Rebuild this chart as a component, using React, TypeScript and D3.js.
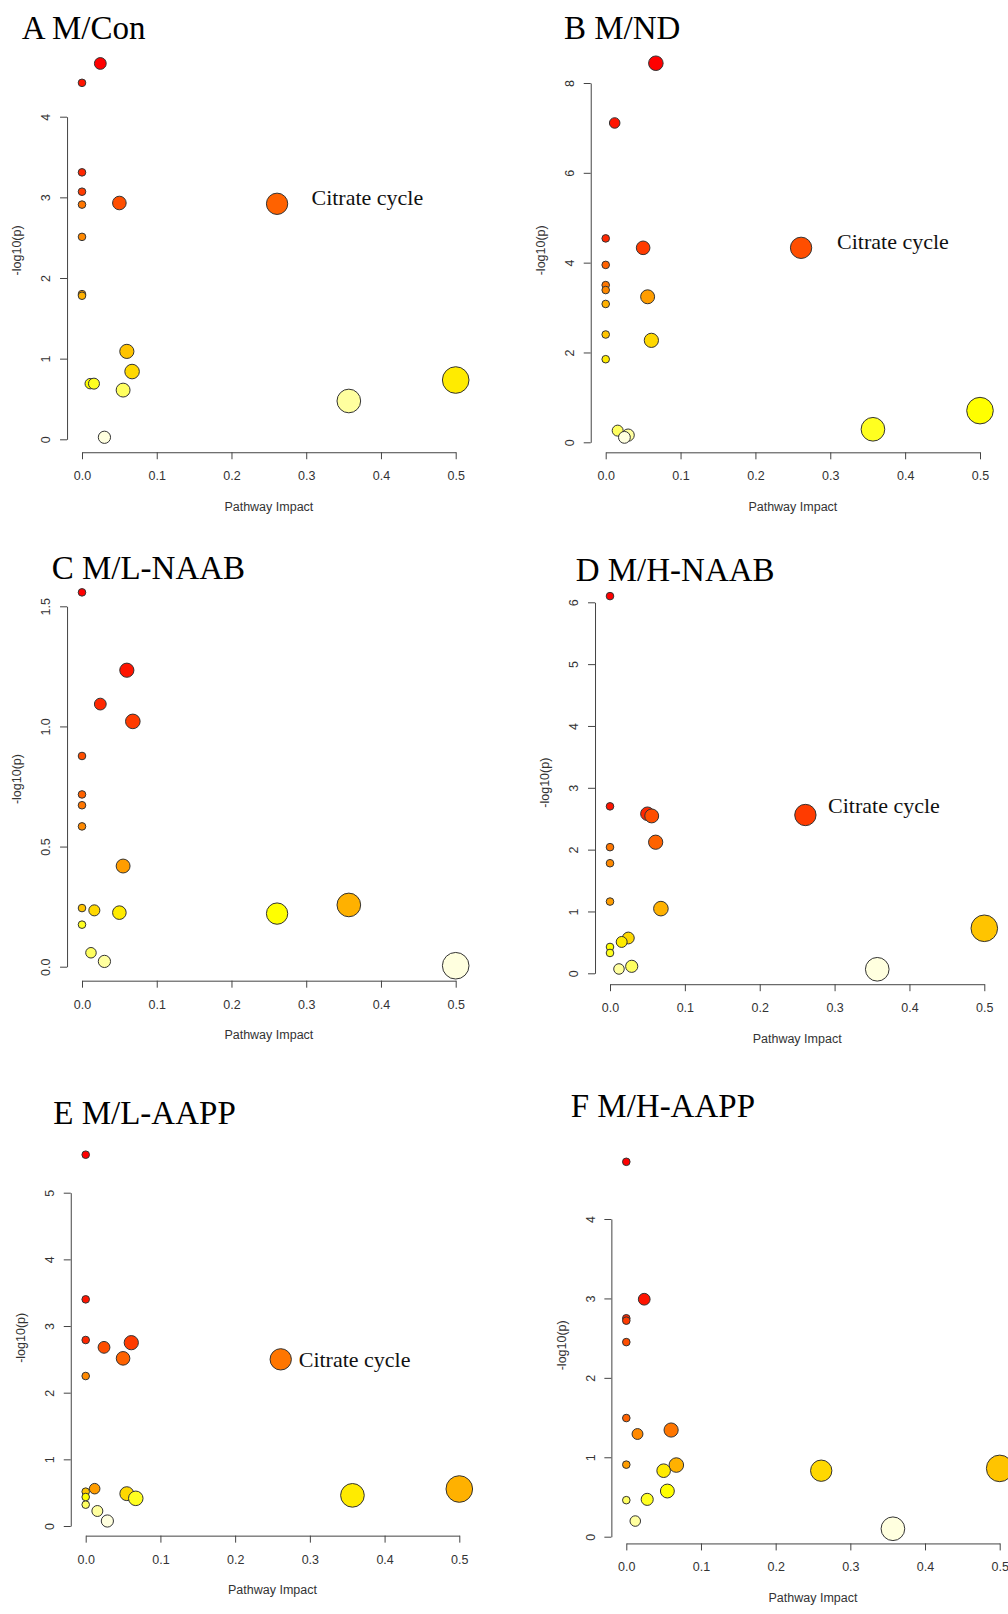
import React, { useEffect, useRef } from "react";
import * as d3 from "d3";

const width = 1008;
const height = 1614;

// pathway impact (x) and -log10(p) (y), one pair of arrays per panel
const impactA = [0.0245, 0, 0, 0, 0, 0.05, 0.261, 0, 0, 0, 0.06, 0.067, 0.5, 0.011, 0.016, 0.055, 0.357, 0.03];
const logpA = [4.66, 4.42, 3.31, 3.07, 2.91, 2.93, 2.92, 2.51, 1.8, 1.78, 1.09, 0.84, 0.735, 0.69, 0.69, 0.61, 0.475, 0.025];

const impactB = [0.067, 0.012, 0, 0.05, 0.261, 0, 0, 0, 0.056, 0, 0, 0.061, 0, 0.5, 0.357, 0.016, 0.03, 0.025];
const logpB = [8.44, 7.11, 4.54, 4.33, 4.33, 3.95, 3.5, 3.39, 3.24, 3.08, 2.4, 2.27, 1.85, 0.705, 0.29, 0.26, 0.16, 0.11];

const impactC = [0, 0.06, 0.0245, 0.068, 0, 0, 0, 0, 0.055, 0.357, 0, 0.0165, 0.05, 0.261, 0, 0.012, 0.03, 0.5];
const logpC = [1.558, 1.234, 1.093, 1.021, 0.877, 0.717, 0.672, 0.584, 0.419, 0.257, 0.244, 0.2345, 0.225, 0.221, 0.175, 0.058, 0.022, 0.004];

const impactD = [0, 0, 0.05, 0.0557, 0.261, 0.061, 0, 0, 0, 0.068, 0.5, 0.0245, 0.0156, 0, 0, 0.029, 0.012, 0.357];
const logpD = [6.1, 2.7, 2.58, 2.545, 2.56, 2.12, 2.04, 1.78, 1.16, 1.046, 0.728, 0.571, 0.507, 0.426, 0.329, 0.113, 0.07, 0.065];

const impactE = [0, 0, 0, 0.061, 0.0245, 0.05, 0.261, 0, 0.5, 0.012, 0, 0.055, 0.357, 0, 0.067, 0, 0.0156, 0.029];
const logpE = [5.57, 3.4, 2.79, 2.75, 2.68, 2.515, 2.5, 2.25, 0.555, 0.56, 0.515, 0.485, 0.46, 0.435, 0.415, 0.32, 0.225, 0.075];

const impactF = [0, 0.024, 0, 0, 0, 0, 0.06, 0.015, 0, 0.067, 0.5, 0.261, 0.05, 0.055, 0.028, 0, 0.012, 0.357];
const logpF = [4.72, 2.99, 2.75, 2.72, 2.45, 1.494, 1.343, 1.293, 0.907, 0.902, 0.86, 0.831, 0.831, 0.575, 0.47, 0.46, 0.197, 0.1];

const titles = ["A M/Con", "B M/ND", "C M/L-NAAB", "D M/H-NAAB", "E M/L-AAPP", "F M/H-AAPP"];
const xTicks = [0, 0.1, 0.2, 0.3, 0.4, 0.5];
const yTicksA = [0, 1, 2, 3, 4];
const yTicksB = [0, 2, 4, 6, 8];
const yTicksC = [0, 0.5, 1, 1.5];
const yTicksD = [0, 1, 2, 3, 4, 5, 6];
const yTicksE = [0, 1, 2, 3, 4, 5];
const yTicksF = [0, 1, 2, 3, 4];
const highlightName = "Citrate cycle";
const highlightImpact = 0.261;
const highlighted = [true, true, false, true, true, false];

// pixel layout of each panel: where x=0 / x=0.5 and y=0 / top tick sit, title and label offsets
const layouts = [
  { x0: 82, x5: 455.7, y0: 439.3, yTop: 116.7, title: [21.7, 39.3], label: [34.4, 1.3] },
  { x0: 605.7, x5: 980, y0: 442.3, yTop: 83, title: [564, 39.3], label: [36, 1.6] },
  { x0: 82, x5: 455.7, y0: 966.7, yTop: 606.3, title: [51.7, 579], label: [0, 0] },
  { x0: 610, x5: 984.3, y0: 973.3, yTop: 602.3, title: [575.7, 580.7], label: [22.7, -2.3] },
  { x0: 85.7, x5: 459.3, y0: 1526, yTop: 1192.7, title: [53.3, 1124.3], label: [18, 7.4] },
  { x0: 626.3, x5: 999.7, y0: 1536.7, yTop: 1219, title: [570.7, 1116.7], label: [0, 0] },
];

const panels = [
  { impact: impactA, logp: logpA, yTicks: yTicksA },
  { impact: impactB, logp: logpB, yTicks: yTicksB },
  { impact: impactC, logp: logpC, yTicks: yTicksC },
  { impact: impactD, logp: logpD, yTicks: yTicksD },
  { impact: impactE, logp: logpE, yTicks: yTicksE },
  { impact: impactF, logp: logpF, yTicks: yTicksF },
];

// R's heat.colors(n)
const heatColors = (n: number) => {
  const j = Math.floor(n / 4);
  const i = n - j;
  const out: string[] = [];
  for (let k = 0; k < i; k++) {
    const h = i > 1 ? k / (i - 1) : 0;
    out.push(d3.rgb(255, Math.round(h * 255), 0).formatHex());
  }
  for (let k = 0; k < j; k++) {
    const from = 1 - 1 / (2 * j);
    const to = 1 / (2 * j);
    const s = j > 1 ? from + (k * (to - from)) / (j - 1) : from;
    out.push(d3.rgb(255, 255, Math.round((1 - s) * 255)).formatHex());
  }
  return out;
};

const sans = "'Liberation Sans', Arial, sans-serif";
const serif = "'Liberation Serif', 'Times New Roman', serif";
const axisColor = "#444";

const App = () => {
  const ref = useRef<SVGSVGElement>(null);

  useEffect(() => {
    const svg = d3.select(ref.current);
    svg.selectAll("*").remove();
    svg.append("rect").attr("width", width).attr("height", height).attr("fill", "white");

    const r = d3.scaleSqrt().domain([0, 0.5]).range([3.8, 13.3]);

    panels.forEach((p, pi) => {
      const L = layouts[pi];
      const yTopVal = p.yTicks[p.yTicks.length - 1];
      const x = d3.scaleLinear().domain([0, 0.5]).range([L.x0, L.x5]);
      const y = d3.scaleLinear().domain([0, yTopVal]).range([L.y0, L.yTop]);

      // R-style plot region: data range extended by 4%
      const [yMin, yMax] = d3.extent(p.logp) as [number, number];
      const yLow = yMin - 0.04 * (yMax - yMin);
      const xLow = -0.04 * 0.5;
      const axisY = y(yLow);
      const axisX = x(xLow);

      const g = svg.append("g");

      const xAxis = d3.axisBottom(x).tickValues(xTicks).tickFormat(d3.format(".1f"))
        .tickSize(7).tickSizeOuter(0).tickPadding(12);
      const gx = g.append("g").attr("transform", `translate(0,${axisY})`).call(xAxis);

      const fmt = p.yTicks.some((t) => !Number.isInteger(t)) ? d3.format(".1f") : d3.format("d");
      const yAxis = d3.axisLeft(y).tickValues(p.yTicks).tickFormat(fmt as any)
        .tickSize(7).tickSizeOuter(0);
      const gy = g.append("g").attr("transform", `translate(${axisX},0)`).call(yAxis);
      gy.selectAll("text")
        .attr("x", 0)
        .attr("dy", "0.35em")
        .attr("text-anchor", "middle")
        .attr("transform", "translate(-21,0) rotate(-90)");

      [gx, gy].forEach((a) => {
        a.select(".domain").attr("stroke", axisColor);
        a.selectAll(".tick line").attr("stroke", axisColor);
        a.selectAll("text").attr("fill", "#333").attr("font-size", 12.5).attr("font-family", sans);
      });

      g.append("text")
        .attr("x", (L.x0 + L.x5) / 2)
        .attr("y", axisY + 54.3)
        .attr("dy", "0.35em")
        .attr("text-anchor", "middle")
        .attr("font-family", sans)
        .attr("font-size", 12.5)
        .attr("fill", "#333")
        .text("Pathway Impact");

      g.append("text")
        .attr("transform", `translate(${axisX - 50},${y((yMin + yMax) / 2)}) rotate(-90)`)
        .attr("dy", "0.35em")
        .attr("text-anchor", "middle")
        .attr("font-family", sans)
        .attr("font-size", 12.5)
        .attr("fill", "#333")
        .text("-log10(p)");

      g.append("text")
        .attr("x", L.title[0])
        .attr("y", L.title[1])
        .attr("font-family", serif)
        .attr("font-size", 33)
        .attr("fill", "#000")
        .text(titles[pi]);

      // draw in order of decreasing -log10(p), coloured by rank
      const order = d3.range(p.logp.length).sort((a, b) => p.logp[b] - p.logp[a]);
      const colors = heatColors(order.length);
      g.append("g")
        .selectAll("circle")
        .data(order)
        .join("circle")
        .attr("cx", (d) => x(p.impact[d]))
        .attr("cy", (d) => y(p.logp[d]))
        .attr("r", (d) => r(p.impact[d]))
        .attr("fill", (_, k) => colors[k])
        .attr("stroke", "#333")
        .attr("stroke-width", 1);

      if (highlighted[pi]) {
        const hi = p.impact.indexOf(highlightImpact);
        g.append("text")
          .attr("x", x(p.impact[hi]) + L.label[0])
          .attr("y", y(p.logp[hi]) + L.label[1])
          .attr("font-family", serif)
          .attr("font-size", 22)
          .attr("fill", "#111")
          .text(highlightName);
      }
    });
  }, []);

  return (
    <svg
      ref={ref}
      width={width}
      height={height}
      viewBox={`0 0 ${width} ${height}`}
      style={{ position: "absolute", left: 0, top: 0, display: "block" }}
    />
  );
};

export default App;
